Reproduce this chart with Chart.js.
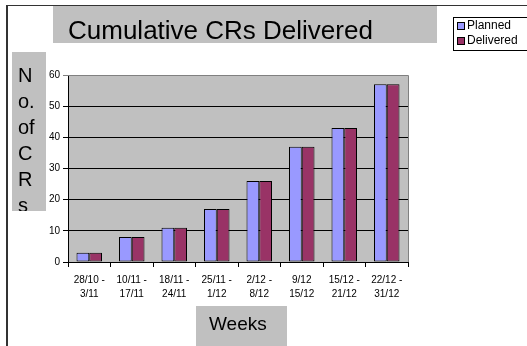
<!DOCTYPE html>
<html>
<head>
<meta charset="utf-8">
<script src="https://cdn.jsdelivr.net/npm/chart.js@4.4.0/dist/chart.umd.min.js"></script>
<style>
  body { margin: 0; background: #fff; }
  canvas { display: block; }
</style>
</head>
<body>
<canvas id="crs" width="527" height="346"></canvas>
<script>
// data
let weeks = [
    ['28/10 -', '3/11'], ['10/11 -', '17/11'], ['18/11 -', '24/11'], ['25/11 -', '1/12'],
    ['2/12 -', '8/12'], ['9/12', '15/12'], ['15/12 -', '21/12'], ['22/12 -', '31/12']
];
let plannedArr = [3, 8, 11, 17, 26, 37, 43, 57];
let deliveredArr = [3, 8, 11, 17, 26, 37, 43, 57];
let yTicks = [0, 10, 20, 30, 40, 50, 60];

let chartTitle = 'Cumulative CRs Delivered';
let yTitleLines = ['N', 'o.', 'of', 'C', 'R', 's'];
let xTitle = 'Weeks';

const FONT = '"Liberation Sans", Arial, sans-serif';

// boxes, frame, legend and axis titles drawn Excel-style
const excelBits = {
    id: 'excelBits',
    beforeDraw(chart) {
        const c = chart.ctx, a = chart.chartArea;
        c.save();
        // outer frame
        c.strokeStyle = '#333';
        c.lineWidth = 2;
        c.beginPath(); c.moveTo(7, 5); c.lineTo(7, 346); c.stroke();
        c.lineWidth = 1;
        c.beginPath(); c.moveTo(7, 5.5); c.lineTo(527, 5.5); c.stroke();

        // title
        c.fillStyle = '#c0c0c0';
        c.fillRect(53, 6, 384, 37);
        c.fillStyle = '#000';
        c.font = '26px ' + FONT;
        c.textBaseline = 'alphabetic';
        c.textAlign = 'left';
        c.fillText(chartTitle, 68, 39);

        // legend
        c.fillStyle = '#fff';
        c.fillRect(453, 17, 80, 33);
        c.strokeStyle = '#000';
        c.strokeRect(453.5, 17.5, 80, 33);
        c.font = '12px ' + FONT;
        c.textBaseline = 'middle';
        chart.data.datasets.forEach((ds, i) => {
            const y = 26 + i * 15;
            c.fillStyle = ds.backgroundColor;
            c.fillRect(457, y - 3.5, 7, 7);
            c.strokeRect(457.5, y - 3.5, 7, 7);
            c.fillStyle = '#000';
            c.fillText(ds.label, 467, y);
        });

        // y title, letters stacked and clipped by its box
        c.fillStyle = '#c0c0c0';
        c.fillRect(12, 52, 34, 159);
        c.save();
        c.beginPath(); c.rect(12, 52, 34, 159); c.clip();
        c.fillStyle = '#000';
        c.font = '20px ' + FONT;
        c.textBaseline = 'alphabetic';
        yTitleLines.forEach((t, i) => c.fillText(t, 18, 82 + i * 26));
        c.restore();

        // x title
        c.fillStyle = '#c0c0c0';
        c.fillRect(196, 306, 91, 40);
        c.fillStyle = '#000';
        c.font = '19px ' + FONT;
        c.textBaseline = 'alphabetic';
        c.fillText(xTitle, 209, 330);

        // plot area
        c.fillStyle = '#c0c0c0';
        c.fillRect(a.left, a.top, a.right - a.left, a.bottom - a.top);
        c.restore();
    },
    beforeDatasetsDraw(chart) {
        const c = chart.ctx, a = chart.chartArea;
        c.save();
        c.strokeStyle = '#808080';
        c.lineWidth = 1;
        c.beginPath();
        c.moveTo(a.left, a.top + 0.5); c.lineTo(a.right + 0.5, a.top + 0.5);
        c.lineTo(a.right + 0.5, a.bottom);
        c.stroke();
        c.restore();
    }
};

var ctx = document.getElementById('crs').getContext('2d');
var crChart = new Chart(ctx, {
    type: 'bar',
    data: {
        labels: weeks,
        datasets: [{
            label: 'Planned',
            data: plannedArr,
            backgroundColor: '#9999ff',
            borderColor: '#000',
            borderWidth: 1,
            borderSkipped: false,
            categoryPercentage: 0.6,
            barPercentage: 1
        },
        {
            label: 'Delivered',
            data: deliveredArr,
            backgroundColor: '#993366',
            borderColor: '#000',
            borderWidth: 1,
            borderSkipped: false,
            categoryPercentage: 0.6,
            barPercentage: 1
        }]
    },
    options: {
        responsive: false,
        animation: false,
        layout: { padding: { left: 0, top: 75, right: 119, bottom: 0 } },
        scales: {
            x: {
                afterFit: s => { s.height = 84; },
                grid: { drawOnChartArea: false, drawTicks: true, tickLength: 5, color: '#000', offset: true },
                border: { color: '#000' },
                ticks: { color: '#000', font: { family: FONT, size: 10, lineHeight: 1.4 }, padding: 6, maxRotation: 0, autoSkip: false }
            },
            y: {
                min: 0,
                max: 60,
                afterFit: s => { s.width = 68; },
                afterBuildTicks: s => { s.ticks = yTicks.map(v => ({ value: v })); },
                grid: { color: ctx => ctx.tick && ctx.tick.value === 60 ? '#808080' : '#000', tickLength: 5 },
                border: { color: '#000' },
                ticks: { color: '#000', font: { family: FONT, size: 10 }, padding: 3 }
            }
        },
        plugins: {
            legend: { display: false },
            tooltip: { enabled: false }
        }
    },
    plugins: [excelBits]
});
</script>
</body>
</html>
